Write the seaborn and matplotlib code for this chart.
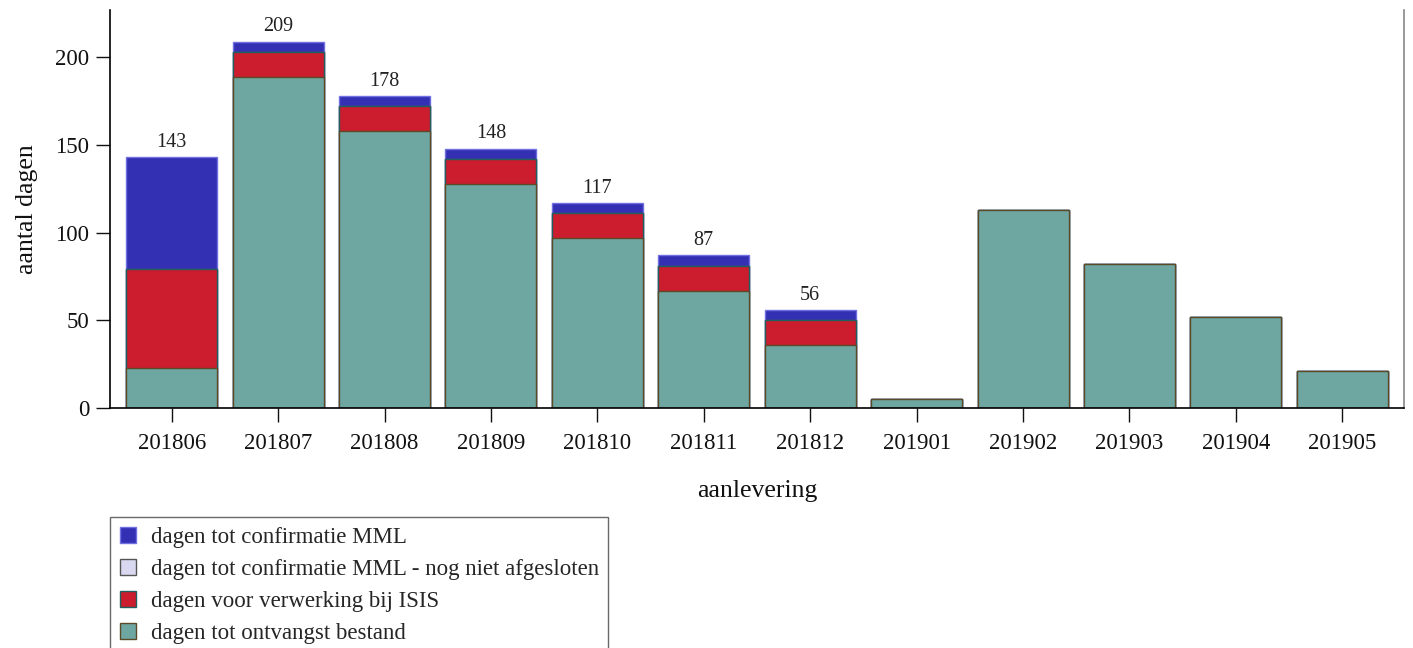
import matplotlib
matplotlib.use("Agg")
import matplotlib.pyplot as plt
import seaborn as sns
import numpy as np
import pandas as pd
from matplotlib.patches import Patch

categories = ["201806", "201807", "201808", "201809", "201810", "201811",
              "201812", "201901", "201902", "201903", "201904", "201905"]
ontvangst = [23, 189, 158, 128, 97, 67, 36, 5, 113, 82, 52, 21]
isis = [56, 14, 14, 14, 14, 14, 14, 0, 0, 0, 0, 0]
confirmatie = [64, 6, 6, 6, 6, 6, 6, 0, 0, 0, 0, 0]
nog_niet = [0, 0, 0, 0, 0, 0, 0, 0, 0, 0, 0, 0]
labels_shown = [143, 209, 178, 148, 117, 87, 56]

series_names = ["dagen tot confirmatie MML",
                "dagen tot confirmatie MML - nog niet afgesloten",
                "dagen voor verwerking bij ISIS",
                "dagen tot ontvangst bestand"]
c_blue = "#3330B4"
c_lav = "#D8D8F0"
c_red = "#CC1D2E"
c_teal = "#6EA7A2"

sns.set_theme(style="white")
plt.rcParams["font.family"] = ["Liberation Serif", "DejaVu Serif"]

fig = plt.figure(figsize=(14.13, 6.48), dpi=100)
ax = fig.add_axes([110/1413, 1-408/648, (1404-110)/1413, (408-10)/648])

df = pd.DataFrame({"cat": categories,
                   "t1": np.array(ontvangst),
                   "t2": np.array(ontvangst) + np.array(isis),
                   "t3": np.array(ontvangst) + np.array(isis) + np.array(nog_niet),
                   "t4": np.array(ontvangst) + np.array(isis) + np.array(nog_niet) + np.array(confirmatie)})

w = 0.855
sns.barplot(data=df, x="cat", y="t4", color=c_blue, width=w, saturation=1,
            edgecolor="#7070E0", linewidth=1.0, ax=ax)
sns.barplot(data=df, x="cat", y="t3", color=c_lav, width=w, saturation=1,
            edgecolor="#555555", linewidth=1.0, ax=ax)
sns.barplot(data=df, x="cat", y="t2", color=c_red, width=w, saturation=1,
            edgecolor="#1F5F5F", linewidth=1.0, ax=ax)
sns.barplot(data=df, x="cat", y="t1", color=c_teal, width=w, saturation=1,
            edgecolor="#5A4A25", linewidth=1.0, ax=ax)

for i, v in enumerate(labels_shown):
    ax.text(i, v + 3, str(v), ha="center", va="bottom", fontsize=14.5, color="#222222")

ax.set_xlim(-0.58, 11.58)
ax.set_ylim(0, 227)
ax.set_yticks([0, 50, 100, 150, 200])
ax.set_xlabel("aanlevering", fontsize=18.5, labelpad=19, color="#111111")
ax.set_ylabel("aantal dagen", fontsize=18.5, labelpad=12, color="#111111")
ax.tick_params(axis="both", labelsize=16.5, colors="#111111", length=10, width=1,
               direction="out", left=True, bottom=True, pad=8)
ax.tick_params(axis="y", pad=5)
for s in ["left", "bottom"]:
    ax.spines[s].set_color("black")
    ax.spines[s].set_linewidth(1.2)
ax.spines["top"].set_visible(False)
ax.spines["right"].set_color("#888888")
ax.spines["right"].set_linewidth(1.2)

handles = [Patch(facecolor=c_blue, edgecolor="#7070E0"),
           Patch(facecolor=c_lav, edgecolor="#555555"),
           Patch(facecolor=c_red, edgecolor="#1F5F5F"),
           Patch(facecolor=c_teal, edgecolor="#5A4A25")]
leg = fig.legend(handles, series_names, loc="upper left",
                 bbox_to_anchor=(110/1413, 1-517/648), bbox_transform=fig.transFigure,
                 borderaxespad=0, fontsize=16.5, frameon=True, fancybox=False,
                 edgecolor="#444444", handlelength=0.7, handleheight=0.7,
                 labelspacing=0.48, handletextpad=0.65, borderpad=0.42)
leg.get_frame().set_linewidth(1.0)

fig.savefig("out.png", dpi=100)
